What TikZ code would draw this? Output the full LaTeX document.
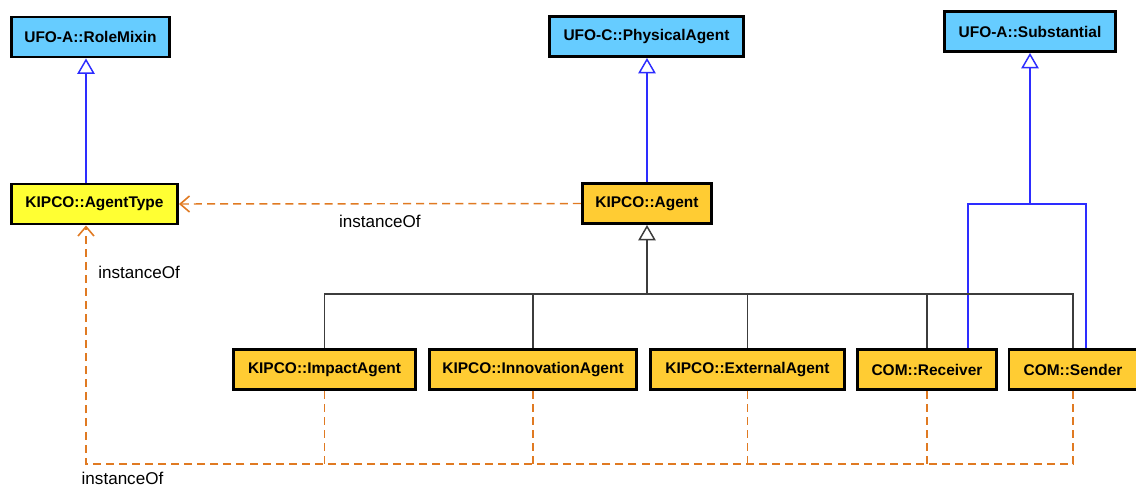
\documentclass[tikz,border=0pt]{standalone}
\usepackage{fontspec}
\setmainfont{Liberation Sans}
\usepackage{tikz}
\usetikzlibrary{arrows.meta,positioning,calc}
\definecolor{ufoblue}{RGB}{102,204,255}
\definecolor{kipyellow}{RGB}{255,255,51}
\definecolor{kiporange}{RGB}{255,204,51}
\definecolor{instorange}{RGB}{224,122,34}
\definecolor{genblue}{RGB}{45,45,255}
\definecolor{treegray}{RGB}{60,60,60}

\begin{document}
\begin{tikzpicture}[x=0.75pt, y=-0.75pt,
    cls/.style={draw=black, line width=2.2pt, minimum height=30pt, inner sep=0pt,
        font=\fontsize{11.6}{13}\selectfont\bfseries},
    ufo/.style={cls, fill=ufoblue},
    kip/.style={cls, fill=kiporange},
    genline/.style={draw=genblue, line width=1.1pt},
    gentip/.style={-{Triangle[open, length=11.5pt, width=13pt, fill=white]}},
    treeline/.style={draw=treegray, line width=1.1pt},
    inst/.style={draw=instorange, line width=1.1pt, dash pattern=on 6pt off 3.8pt},
    insttip/.style={-{Straight Barb[length=7pt, width=12pt, line width=1.2pt]}},
    lbl/.style={font=\fontsize{12.8}{14}\selectfont, inner sep=0pt}]
\useasboundingbox (0,0) rectangle (1136,486);

% upper level
\node[ufo, minimum width=118.5pt] (RoleMixin) at (90.5,37) {UFO-A::RoleMixin};
\node[ufo, minimum width=145.5pt] (PhysicalAgent) at (646.5,36.5) {UFO-C::PhysicalAgent};
\node[ufo, minimum width=128.5pt] (Substantial) at (1030,31.5) {UFO-A::Substantial};

% kipco level
\node[cls, fill=kipyellow, minimum width=124.5pt] (AgentType) at (94.5,204) {KIPCO::AgentType};
\node[kip, minimum width=97pt] (Agent) at (647,203.5) {KIPCO::Agent};

% agent kinds
\node[kip, minimum width=136.5pt] (ImpactAgent) at (324.5,369.5) {KIPCO::ImpactAgent};
\node[kip, minimum width=155.5pt] (InnovationAgent) at (533,369.5) {KIPCO::InnovationAgent};
\node[kip, minimum width=145.5pt] (ExternalAgent) at (747.5,369.5) {KIPCO::ExternalAgent};
\node[kip, minimum width=104.5pt] (Receiver) at (927,369.5) {COM::Receiver};
\node[kip, minimum width=96pt] (Sender) at (1073,369.5) {COM::Sender};

\coordinate (lx) at (86,464);
\coordinate (tj) at (647,294);
\coordinate (subL) at (968,204);
\coordinate (subR) at (1086,204);

% generalizations
\draw[genline, gentip] (lx |- AgentType.north) -- (lx |- RoleMixin.south);
\draw[genline, gentip] (Agent.north) -- (Agent.north |- PhysicalAgent.south);
\draw[genline] (subL |- Receiver.north) |- (subR) -- (subR |- Sender.north);
\draw[genline, gentip] (Substantial.south |- subL) -- (Substantial.south);
\draw[treeline, gentip] (tj) -- (Agent.south);
\draw[treeline] (ImpactAgent.north) |- (Sender.north |- tj) -- (Sender.north);
\draw[treeline] (InnovationAgent.north) -- (InnovationAgent.north |- tj);
\draw[treeline] (ExternalAgent.north) -- (ExternalAgent.north |- tj);
\draw[treeline] (Receiver.north) -- (Receiver.north |- tj);

% instanceOf
\draw[inst, insttip] (Agent.west) -- (AgentType.east)
    node[lbl, midway, below=8pt] (lblA) {instanceOf};
\draw[inst, insttip] (Sender.south) |- (lx) -- (lx |- AgentType.south);
\draw[inst, line width=1pt] (ImpactAgent.south) -- (ImpactAgent.south |- lx);
\draw[inst, line width=1pt] (InnovationAgent.south) -- (InnovationAgent.south |- lx);
\draw[inst, line width=1pt] (ExternalAgent.south) -- (ExternalAgent.south |- lx);
\draw[inst, line width=1pt] (Receiver.south) -- (Receiver.south |- lx);
\node[lbl, anchor=west] (lblB) at (98,272) {instanceOf};
\node[lbl] (lblC) at (122.5,478) {instanceOf};

\end{tikzpicture}
\end{document}
